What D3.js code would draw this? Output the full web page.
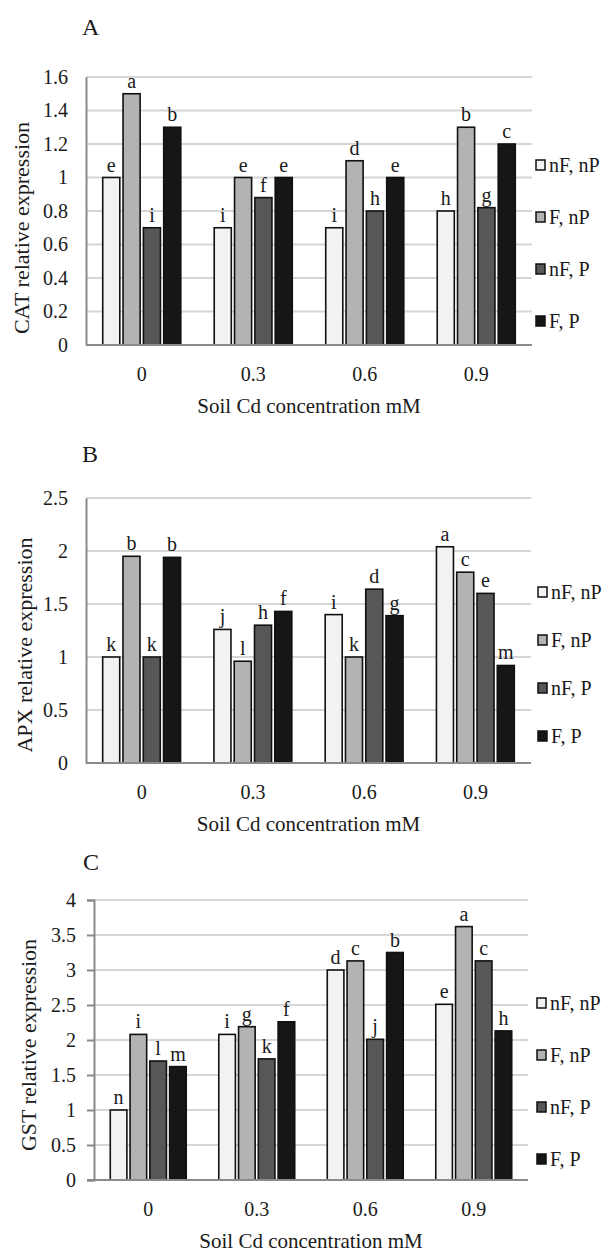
<!DOCTYPE html>
<html>
<head>
<meta charset="utf-8">
<script src="https://cdn.jsdelivr.net/npm/d3@7"></script>
<style>
  body { margin: 0; background: #fff; }
  svg text { font-family: "Liberation Serif", "DejaVu Serif", "Noto Serif", "Times New Roman", Times, serif; fill: #1a1a1a; }
</style>
</head>
<body>
<svg id="chart" width="608" height="1254"></svg>
<script>
// Cd concentration groups and the four treatments
const groups = ['0', '0.3', '0.6', '0.9'];
const seriesNames = ['nF, nP', 'F, nP', 'nF, P', 'F, P'];
const seriesColors = ['#f2f2f2', '#b3b3b3', '#575757', '#161616'];

// A - CAT
const catValues = [[1.0, 1.5, 0.7, 1.3], [0.7, 1.0, 0.88, 1.0], [0.7, 1.1, 0.8, 1.0], [0.8, 1.3, 0.82, 1.2]];
const catLetters = [['e', 'a', 'i', 'b'], ['i', 'e', 'f', 'e'], ['i', 'd', 'h', 'e'], ['h', 'b', 'g', 'c']];
const catTicks = [0, 0.2, 0.4, 0.6, 0.8, 1, 1.2, 1.4, 1.6];

// B - APX
const apxValues = [[1.0, 1.95, 1.0, 1.94], [1.26, 0.96, 1.3, 1.43], [1.4, 1.0, 1.64, 1.39], [2.04, 1.8, 1.6, 0.92]];
const apxLetters = [['k', 'b', 'k', 'b'], ['j', 'l', 'h', 'f'], ['i', 'k', 'd', 'g'], ['a', 'c', 'e', 'm']];
const apxTicks = [0, 0.5, 1, 1.5, 2, 2.5];

// C - GST
const gstValues = [[1.0, 2.08, 1.7, 1.62], [2.08, 2.19, 1.73, 2.26], [3.0, 3.13, 2.01, 3.25], [2.51, 3.62, 3.13, 2.13]];
const gstLetters = [['n', 'i', 'l', 'm'], ['i', 'g', 'k', 'f'], ['d', 'c', 'j', 'b'], ['e', 'a', 'c', 'h']];
const gstTicks = [0, 0.5, 1, 1.5, 2, 2.5, 3, 3.5, 4];

const xTitle = 'Soil Cd concentration mM';
const serif = '"Liberation Serif", "DejaVu Serif", "Noto Serif", serif';

const panels = [
  { tag: 'A', label: [82, 35], left: 86, right: 532, top: 77, bottom: 345, yTitle: 'CAT relative expression',
    titleX: 21, titleY: 228, legendX: 536, legendY: 165, legendStep: 52, ticks: catTicks,
    values: catValues, letters: catLetters, tickOut: 0 },
  { tag: 'B', label: [82, 462], left: 86, right: 531, top: 498, bottom: 763, yTitle: 'APX relative expression',
    titleX: 24, titleY: 645, legendX: 538, legendY: 592, legendStep: 48, ticks: apxTicks,
    values: apxValues, letters: apxLetters, tickOut: 0 },
  { tag: 'C', label: [83, 870], left: 94, right: 528, top: 900, bottom: 1180, yTitle: 'GST relative expression',
    titleX: 28, titleY: 1045, legendX: 537, legendY: 1003, legendStep: 52, ticks: gstTicks,
    values: gstValues, letters: gstLetters, tickOut: 7 },
];

const svg = d3.select('#chart');
svg.append('rect').attr('width', 608).attr('height', 1254).attr('fill', '#fff');

panels.forEach((p) => drawPanel(svg.append('g').attr('class', 'panel'), p));

function drawPanel(g, p) {
  const y = d3.scaleLinear()
    .domain([0, d3.max(p.ticks)])
    .range([p.bottom, p.top]);

  const x0 = d3.scaleBand()
    .domain(groups)
    .range([p.left, p.right])
    .paddingInner(0.3)
    .paddingOuter(0.15);

  const x1 = d3.scaleBand()
    .domain(seriesNames)
    .range([0, x0.bandwidth()])
    .paddingInner(0.16);

  // panel letter
  g.append('text')
    .attr('x', p.label[0])
    .attr('y', p.label[1])
    .attr('font-size', 24)
    .text(p.tag);

  // gridlines
  g.append('g')
    .selectAll('line')
    .data(p.ticks.filter((t) => t > 0))
    .join('line')
    .attr('x1', p.left)
    .attr('x2', p.right)
    .attr('y1', (d) => y(d))
    .attr('y2', (d) => y(d))
    .attr('stroke', '#d6d6d6')
    .attr('stroke-width', 2);

  // y axis
  const yAxis = g.append('g')
    .attr('transform', `translate(${p.left},0)`)
    .call(d3.axisLeft(y).tickValues(p.ticks).tickSize(p.tickOut).tickPadding(18 - p.tickOut)
      .tickFormat((d) => String(+d.toFixed(1))));
  yAxis.attr('font-family', serif);
  yAxis.select('.domain').attr('stroke', '#8a8a8a').attr('stroke-width', 2);
  yAxis.selectAll('.tick line').attr('stroke', '#8a8a8a').attr('stroke-width', 2);
  yAxis.selectAll('.tick text').attr('font-size', 20).attr('fill', '#1a1a1a');

  // bars
  const groupSel = g.append('g')
    .selectAll('g')
    .data(p.values)
    .join('g')
    .attr('transform', (d, i) => `translate(${x0(groups[i])},0)`);

  groupSel.selectAll('rect')
    .data((d) => d)
    .join('rect')
    .attr('x', (d, i) => x1(seriesNames[i]))
    .attr('width', x1.bandwidth())
    .attr('y', (d) => y(d))
    .attr('height', (d) => y(0) - y(d))
    .attr('fill', (d, i) => seriesColors[i])
    .attr('stroke', '#111')
    .attr('stroke-width', 1.6);

  groupSel.selectAll('text')
    .data((d, gi) => d.map((v, i) => ({ v, letter: p.letters[gi][i] })))
    .join('text')
    .attr('x', (d, i) => x1(seriesNames[i]) + x1.bandwidth() / 2)
    .attr('y', (d) => y(d.v) - 6)
    .attr('text-anchor', 'middle')
    .attr('font-size', 20)
    .text((d) => d.letter);

  // x axis
  const xAxis = g.append('g')
    .attr('transform', `translate(0,${p.bottom})`)
    .call(d3.axisBottom(x0).tickSize(0).tickPadding(22));
  xAxis.attr('font-family', serif);
  xAxis.select('.domain')
    .attr('d', `M${p.left - p.tickOut},0H${p.right}`)
    .attr('stroke', '#8a8a8a')
    .attr('stroke-width', 2);
  xAxis.selectAll('.tick text').attr('font-size', 20).attr('fill', '#1a1a1a');

  g.append('text')
    .attr('x', (p.left + p.right) / 2)
    .attr('y', p.bottom + 68)
    .attr('text-anchor', 'middle')
    .attr('font-size', 21)
    .text(xTitle);

  g.append('text')
    .attr('transform', `translate(${p.titleX},${p.titleY}) rotate(-90)`)
    .attr('text-anchor', 'middle')
    .attr('dominant-baseline', 'central')
    .attr('font-size', 22)
    .text(p.yTitle);

  // legend
  const legend = g.append('g')
    .selectAll('g')
    .data(seriesNames)
    .join('g')
    .attr('transform', (d, i) => `translate(${p.legendX},${p.legendY + i * p.legendStep})`);

  legend.append('rect')
    .attr('x', 0)
    .attr('y', -5)
    .attr('width', 9)
    .attr('height', 10)
    .attr('fill', (d, i) => seriesColors[i])
    .attr('stroke', '#111')
    .attr('stroke-width', 1.5);

  legend.append('text')
    .attr('x', 13)
    .attr('y', 7)
    .attr('font-size', 20)
    .text((d) => d);
}
</script>
</body>
</html>
